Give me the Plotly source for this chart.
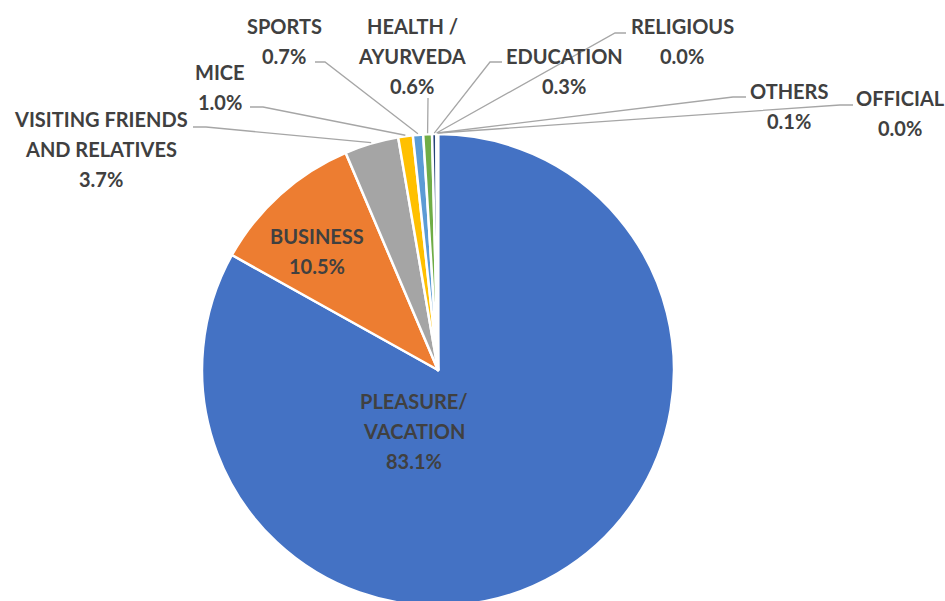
import math
import plotly.graph_objects as go

# ---------------- data ----------------
categories = ["PLEASURE/ VACATION", "BUSINESS", "VISITING FRIENDS AND RELATIVES", "MICE",
              "SPORTS", "HEALTH / AYURVEDA", "EDUCATION", "RELIGIOUS", "OTHERS", "OFFICIAL"]
share_pct = [83.1, 10.5, 3.7, 1.0, 0.7, 0.6, 0.3, 0.0, 0.1, 0.0]
label_lines = [["PLEASURE/", "VACATION"], ["BUSINESS"], ["VISITING FRIENDS", "AND RELATIVES"],
               ["MICE"], ["SPORTS"], ["HEALTH /", "AYURVEDA"], ["EDUCATION"], ["RELIGIOUS"],
               ["OTHERS"], ["OFFICIAL"]]
colors = ["#4472C4", "#ED7D31", "#A5A5A5", "#FFC000", "#5B9BD5", "#70AD47",
          "#264478", "#9E480E", "#636363", "#997300"]

# ---------------- layout geometry (window pixels) ----------------
PAGE_OFF = 0
W, H = 945, 612         # figure size (bottom of pie runs past the window)
CX, CY, R = 438, 370, 236
LINE_H = 30
FONT = dict(family="Lato", size=20, color="#404040")

# label text position (center x, first line center y) and leader line (start, elbow)
label_pos = {
    "PLEASURE/ VACATION": (414, 401, None),
    "BUSINESS": (317, 236, None),
    "VISITING FRIENDS AND RELATIVES": (101, 119, ((193, 127), (206, 127))),
    "MICE": (220, 72, ((250, 107), (263, 107))),
    "SPORTS": (284, 26, ((315, 62), (325, 62))),
    "HEALTH / AYURVEDA": (412, 26, ((428, 98), (428, 99))),
    "EDUCATION": (564, 56, ((502, 62), (490, 62))),
    "RELIGIOUS": (682, 26, ((626, 33), (615, 33))),
    "OTHERS": (789, 91, ((746, 97), (733, 97))),
    "OFFICIAL": (900, 98, ((853, 105), (840, 105))),
}


def px(x):
    return (x - PAGE_OFF) / W


def py(y):
    return 1 - (y - PAGE_OFF) / H


fig = go.Figure(go.Pie(
    labels=categories,
    values=share_pct,
    sort=False,
    direction="clockwise",
    rotation=0,
    textinfo="none",
    hoverinfo="label+percent",
    marker=dict(colors=colors, line=dict(color="white", width=2.5)),
    domain=dict(x=[px(CX - R), px(CX + R)], y=[py(CY + R), py(CY - R)]),
    showlegend=False,
))

annotations = []
shapes = []
total = sum(share_pct)
cum = 0.0
for cat, v, lines in zip(categories, share_pct, label_lines):
    mid = (cum + v / 2) / total
    cum += v
    lx, ly, leader = label_pos[cat]
    texts = lines + [f"{v:.1f}%"]
    for i, t in enumerate(texts):
        annotations.append(dict(
            x=px(lx), y=py(ly + i * LINE_H), xref="paper", yref="paper",
            text=f"<b>{t}</b>", showarrow=False, xanchor="center", yanchor="middle",
            font=FONT,
        ))
    if leader is not None:
        ang = 2 * math.pi * mid
        ex = CX + (R + 1) * math.sin(ang)
        ey = CY - (R + 1) * math.cos(ang)
        (sx, sy), (bx, by) = leader
        path = f"M {px(sx)},{py(sy)} L {px(bx)},{py(by)} L {px(ex)},{py(ey)}"
        shapes.append(dict(type="path", path=path, xref="paper", yref="paper",
                           line=dict(color="#A6A6A6", width=1.3)))

fig.update_layout(
    width=W, height=H,
    margin=dict(l=0, r=0, t=0, b=0),
    paper_bgcolor="white", plot_bgcolor="white",
    annotations=annotations, shapes=shapes,
)

fig.write_html(
    "out.html",
    config={"displayModeBar": False},
    post_script="document.body.style.margin='0';document.body.style.overflow='hidden';",
)
